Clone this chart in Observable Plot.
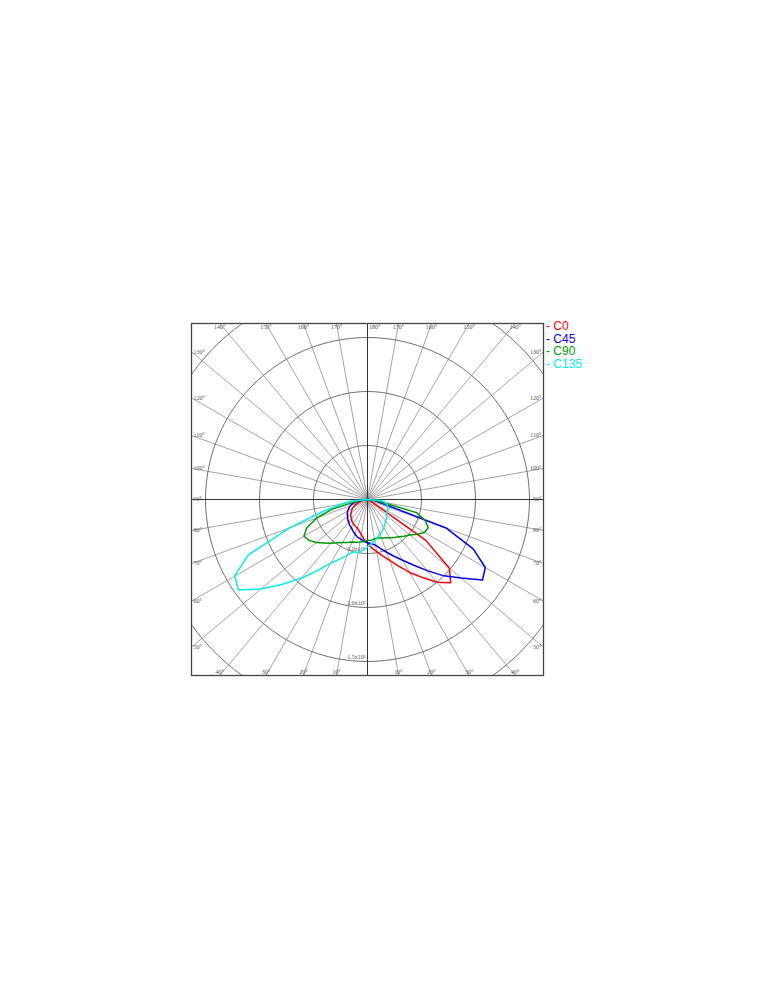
<!DOCTYPE html>
<html>
<head>
<meta charset="utf-8">
<script src="https://cdn.jsdelivr.net/npm/d3@7"></script>
<script src="https://cdn.jsdelivr.net/npm/@observablehq/plot@0.6"></script>
<style>
  body { margin: 0; background: #fff; }
  #wrap { position: relative; width: 771px; height: 1000px; }
  #chart { position: absolute; left: 0; top: 319px; }
  #legend { position: absolute; left: 546px; top: 320px; font: 12px "Liberation Sans", Arial, sans-serif; line-height: 12.6px; }
</style>
</head>
<body>
<div id="wrap">
  <div id="chart"></div>
  <div id="legend"></div>
</div>
<script>
// Vertical angle (gamma, degrees from nadir; negative = opposite half-plane)
const gamma = [-90,-85,-80,-75,-70,-65,-60,-55,-50,-45,-40,-35,-30,-25,-20,-15,-10,-5,0,
               5,10,15,20,25,30,35,40,45,50,55,60,65,70,75,80,85,90];

// Luminous intensity per C-plane (cd/klm)
const c0   = [0,2,4,6,9,13,16,18,20,22,23,25,26,27,28,30,33,37,40,
              45,49,54,60,68,78,88,100,109,99,66,5,3,2,1,1,0,0];
const c45  = [0,3,8,14,17,19,21,23,24,26,27,29,30,32,34,36,37,39,40,
              41,43,47,52,58,65,74,86,100,113,130,126,108,78,15,7,3,0];
const c90  = [0,3,10,33,50,62,68,66,62,57,53,49,46,44,42,41,40,39,38,
              38,37,37,38,39,41,43,45,48,51,56,61,62,57,47,12,4,0];
const c135 = [0,15,25,42,77,122,142,146,129,111,95,80,68,61,55,50,50,47,44,
              41,39,36,34,32,30,28,26,25,23,22,21,21,20,19,17,14,0];

const seriesNames  = ["C0", "C45", "C90", "C135"];
const seriesValues = [c0, c45, c90, c135];
const seriesColors = ["#ff0000", "#0000ff", "#009a00", "#00f0f0"];

// Intensity rings and their labels
const ringValues = [50, 100, 150, 200];
const ringLabels = ["5.0x10¹", "1.0x10²", "1.5x10²", "2.0x10²"];

// Spokes every 10°
const spokeAngles = [-170,-160,-150,-140,-130,-120,-110,-100,-80,-70,-60,-50,-40,-30,-20,-10,
                     10,20,30,40,50,60,70,80,100,110,120,130,140,150,160,170];
const edgeLabelAngles = [-170,-160,-150,-140,-130,-120,-110,-100,-90,-80,-70,-60,-50,-40,-30,-20,-10,
                         10,20,30,40,50,60,70,80,90,100,110,120,130,140,150,160,170,180];

const H = 163;          // half extent of the square frame, cd/klm
const rad = d => d * Math.PI / 180;
const px = (g, v) => v * Math.sin(rad(g));
const py = (g, v) => -v * Math.cos(rad(g));

// Long-format rows for the polar curves
const curveRows = seriesNames.flatMap((name, k) =>
  gamma.map((g, i) => ({series: name, g, v: seriesValues[k][i]})));

// Ring outlines
const ringRows = ringValues.flatMap(r =>
  d3.range(0, 361, 2).map(a => ({ring: r, a})));

// Ring labels that fall inside the frame
const ringLabelRows = ringValues
  .map((v, i) => ({v, label: ringLabels[i]}))
  .filter(d => d.v < H);

// Where each spoke meets the frame
const edgeRows = edgeLabelAngles.map(g => {
  const s = Math.sin(rad(g)), c = -Math.cos(rad(g));
  const m = Math.max(Math.abs(s), Math.abs(c));
  const x = H * s / m, y = H * c / m;
  let edge;
  if (Math.abs(c) >= Math.abs(s) - 1e-9) edge = c > 0 ? "top" : "bottom";
  else edge = s > 0 ? "right" : "left";
  return {g, x, y, edge, label: `${Math.abs(g)}°`};
});

const labelStyle = {fontSize: 6, fontFamily: "Liberation Serif, serif", fill: "#5a5048"};

const chart = Plot.plot({
  width: 771,
  height: 360,
  marginLeft: 191,
  marginRight: 228,
  marginTop: 4,
  marginBottom: 4,
  x: {domain: [-H, H], axis: null},
  y: {domain: [-H, H], axis: null},
  color: {domain: seriesNames, range: seriesColors},
  marks: [
    // spokes
    Plot.link(spokeAngles, {
      x1: () => 0, y1: () => 0,
      x2: g => px(g, 400), y2: g => py(g, 400),
      stroke: "#8c8c8c", strokeWidth: 0.8, clip: true
    }),
    // rings
    Plot.line(ringRows, {
      x: d => d.ring * Math.sin(rad(d.a)),
      y: d => d.ring * Math.cos(rad(d.a)),
      z: "ring", stroke: "#6e6e6e", strokeWidth: 1, clip: true
    }),
    // main axes
    Plot.ruleX([0], {stroke: "#333", strokeWidth: 1}),
    Plot.ruleY([0], {stroke: "#333", strokeWidth: 1}),
    // ring labels
    Plot.text(ringLabelRows, {
      x: () => 0, y: d => -d.v, text: "label",
      textAnchor: "end", dx: -2, dy: -4, ...labelStyle
    }),
    // angle labels along the frame
    Plot.text(edgeRows.filter(d => d.edge === "top" && d.g !== 180), {
      x: "x", y: "y", text: "label", lineAnchor: "top", dy: 1.5, ...labelStyle
    }),
    Plot.text(edgeRows.filter(d => d.g === 180), {
      x: "x", y: "y", text: "label", lineAnchor: "top", textAnchor: "start", dx: 1.5, dy: 1.5, ...labelStyle
    }),
    Plot.text(edgeRows.filter(d => d.edge === "bottom"), {
      x: "x", y: "y", text: "label", lineAnchor: "bottom", dy: -1.5, ...labelStyle
    }),
    Plot.text(edgeRows.filter(d => d.edge === "left"), {
      x: "x", y: "y", text: "label", textAnchor: "start", dx: 2, ...labelStyle
    }),
    Plot.text(edgeRows.filter(d => d.edge === "right"), {
      x: "x", y: "y", text: "label", textAnchor: "end", dx: -2, ...labelStyle
    }),
    // photometric curves
    Plot.line(curveRows, {
      x: d => px(d.g, d.v), y: d => py(d.g, d.v),
      z: "series", stroke: "series", strokeWidth: 1.5, curve: "linear", clip: true
    }),
    Plot.frame({stroke: "#444", strokeWidth: 1.3})
  ]
});
document.getElementById("chart").append(chart);

// Legend
const legend = document.getElementById("legend");
seriesNames.forEach((name, i) => {
  const row = document.createElement("div");
  row.style.color = seriesColors[i];
  row.textContent = "- " + name;
  legend.append(row);
});
</script>
</body>
</html>
